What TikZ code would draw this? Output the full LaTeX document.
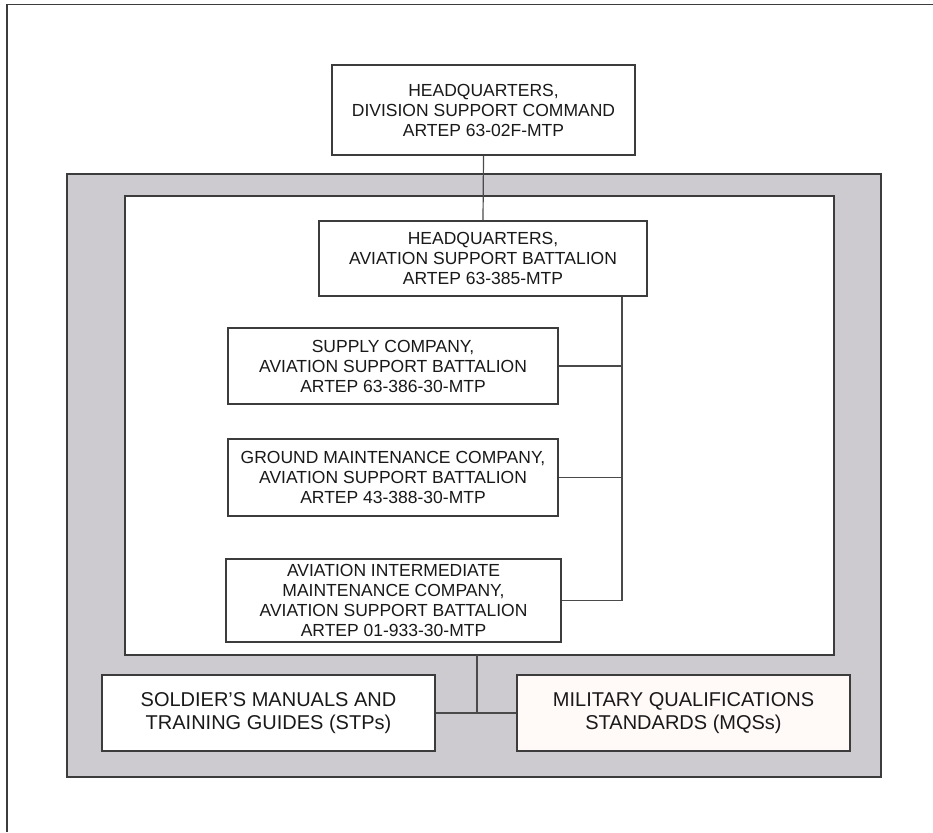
\documentclass[tikz,border=0pt]{standalone}
\usepackage{fontspec}
\setmainfont{Liberation Sans}
\definecolor{linegray}{HTML}{3C3C3C}
\definecolor{conngray}{HTML}{4A4A4A}
\definecolor{panelgray}{HTML}{CDCBD0}
\definecolor{mqsfill}{HTML}{FFF9F8}
\begin{document}
\begin{tikzpicture}[x=1pt,y=-1pt,
  unitbox/.style={draw=linegray, line width=1.2pt, fill=white, align=center, inner sep=0pt,
    font=\fontsize{17.5}{20}\selectfont, text=black!90},
  bigbox/.style={unitbox, font=\fontsize{20}{23}\selectfont},
  conn/.style={draw=conngray, line width=1.2pt}]
\useasboundingbox (0,0) rectangle (933,832);
% outer frame (top and left rules)
\draw[draw=linegray, line width=1.4pt] (7,832) -- (7,4.5) -- (933,4.5);
% grey panel and inner white area
\draw[draw=linegray, line width=1.3pt, fill=panelgray] (67,174) rectangle (881,777);
\draw[draw=linegray, line width=1.2pt, fill=white] (125,196) rectangle (834,655);
% boxes
\node[unitbox, minimum width=303pt, minimum height=90pt] (discom) at (483.5,110)
  {HEADQUARTERS,\\DIVISION SUPPORT COMMAND\\ARTEP 63-02F-MTP};
\node[unitbox, minimum width=328pt, minimum height=75pt] (hqasb) at (483,258.5)
  {HEADQUARTERS,\\AVIATION SUPPORT BATTALION\\ARTEP 63-385-MTP};
\node[unitbox, minimum width=330pt, minimum height=76pt] (supply) at (393,366)
  {SUPPLY COMPANY,\\AVIATION SUPPORT BATTALION\\ARTEP 63-386-30-MTP};
\node[unitbox, minimum width=330pt, minimum height=77pt] (ground) at (393,477.5)
  {GROUND MAINTENANCE COMPANY,\\AVIATION SUPPORT BATTALION\\ARTEP 43-388-30-MTP};
\node[unitbox, minimum width=335pt, minimum height=83pt] (aim) at (393.5,600.5)
  {AVIATION INTERMEDIATE\\MAINTENANCE COMPANY,\\AVIATION SUPPORT BATTALION\\ARTEP 01-933-30-MTP};
\node[bigbox, minimum width=333pt, minimum height=76pt] (stp) at (268.5,713)
  {SOLDIER'S MANUALS AND\\TRAINING GUIDES (STPs)};
\node[bigbox, fill=mqsfill, minimum width=333pt, minimum height=76pt] (mqs) at (683.5,713)
  {MILITARY QUALIFICATIONS\\STANDARDS (MQSs)};
% connectors
\coordinate (bus) at (622,0);
\coordinate (stem) at (477,655);
\draw[conn] (discom.south) -- (hqasb.north);
\draw[conn] (hqasb.south -| bus) -- (aim.east -| bus);
\draw[conn] (supply.east) -- (supply.east -| bus);
\draw[conn] (ground.east) -- (ground.east -| bus);
\draw[conn] (aim.east) -- (aim.east -| bus);
\draw[conn] (stem) -- (stem |- stp.east);
\draw[conn] (stp.east) -- (mqs.west);
\end{tikzpicture}
\end{document}
